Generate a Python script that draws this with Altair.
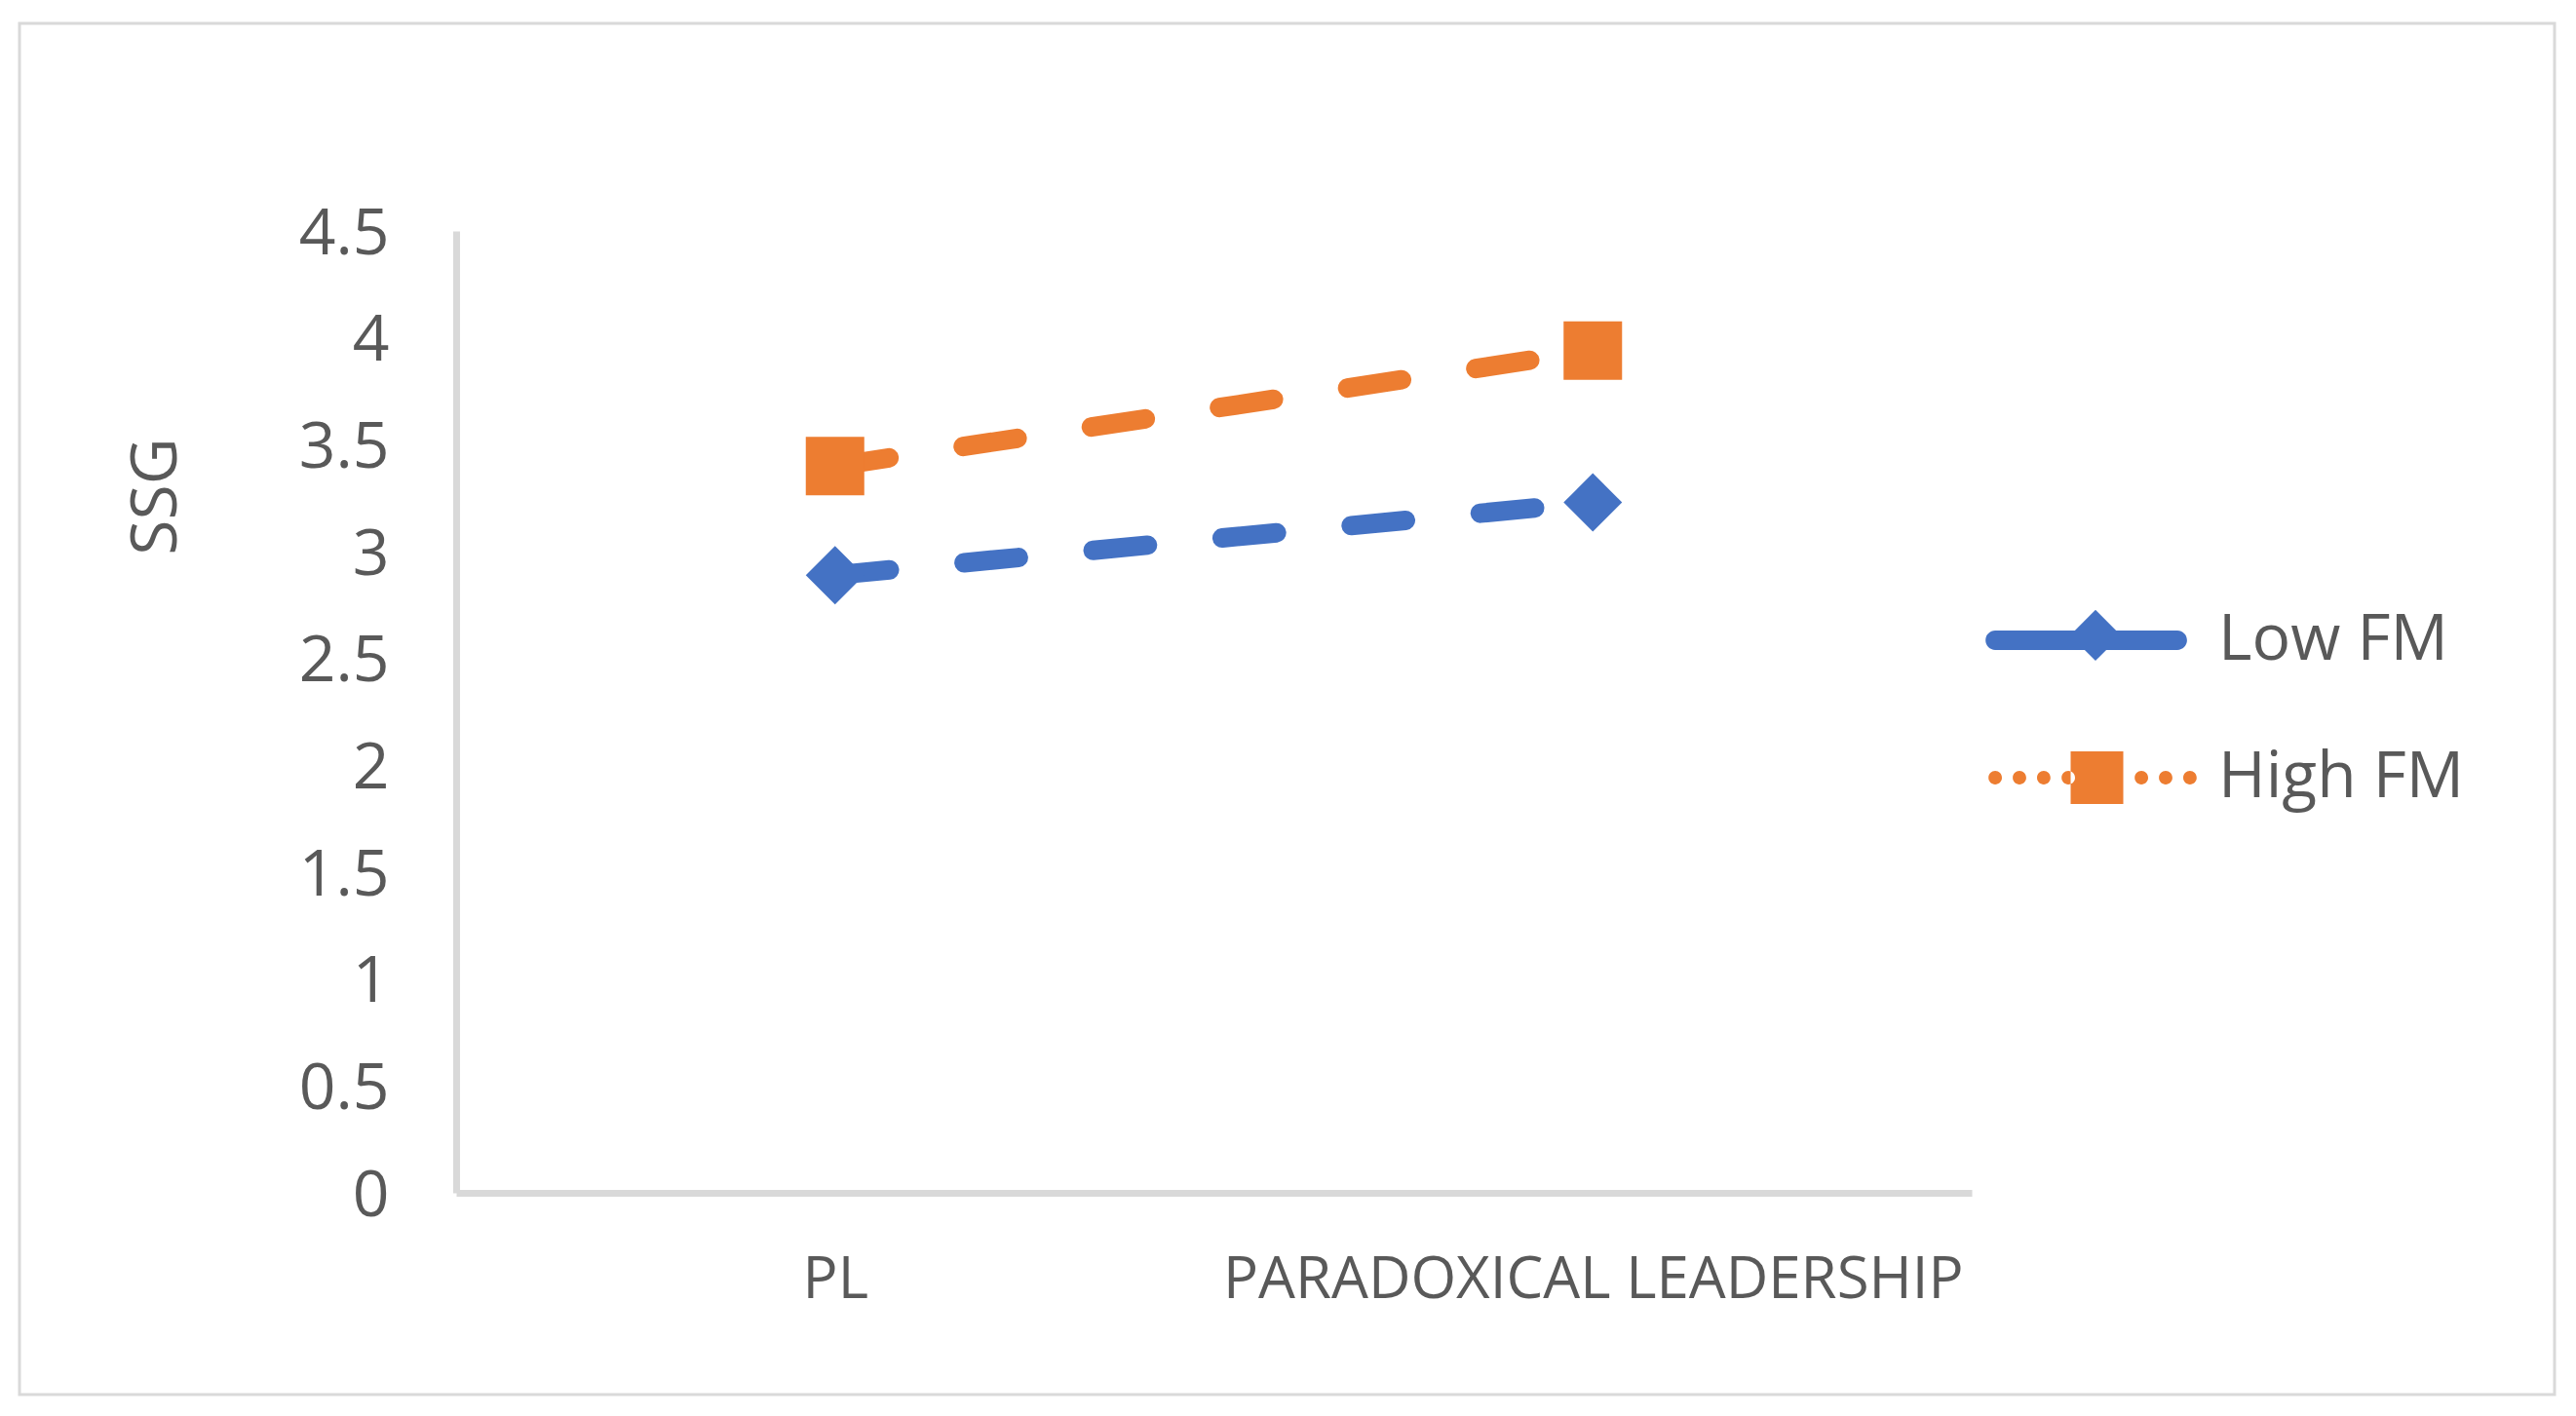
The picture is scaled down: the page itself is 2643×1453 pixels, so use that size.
import altair as alt
import pandas as pd

# ---- data ----
categories = ["PL", "PARADOXICAL LEADERSHIP"]
series = ["Low  FM", "High FM"]
low_fm = [2.89, 3.23]
high_fm = [3.40, 3.94]
y_ticks = [0, 0.5, 1, 1.5, 2, 2.5, 3, 3.5, 4, 4.5]
series_colors = ["#4472C4", "#ED7D31"]
series_shapes = ["diamond", "square"]

rows = []
for name, vals in zip(series, [low_fm, high_fm]):
    for cat, v in zip(categories, vals):
        rows.append({"category": cat, "series": name, "value": v})
df = pd.DataFrame(rows)

# ---- legend glyphs (line + marker), unit = half of sqrt(symbolSize) ----
def circle(cx, cy, r):
    return (f"M{cx - r:.3f},{cy:.3f} A{r},{r} 0 1 0 {cx + r:.3f},{cy:.3f} "
            f"A{r},{r} 0 1 0 {cx - r:.3f},{cy:.3f} Z")

low_glyph = ("M-3.13,-0.33 L3.10,-0.33 A0.33,0.33 0 0 1 3.10,0.33 "
             "L-3.13,0.33 A0.33,0.33 0 0 1 -3.13,-0.33 Z "
             "M0.30,-1.04 L1.17,-0.17 L0.30,0.70 L-0.57,-0.17 Z")
high_glyph = " ".join(circle(cx, 0, 0.23) for cx in [-3.13, -2.30, -1.47, -0.63, 1.87, 2.70, 3.53]) \
    + " M-0.55,-0.90 L1.25,-0.90 L1.25,0.90 L-0.55,0.90 Z"

FONT = "Open Sans"
TXT = "#595959"
AXIS_GRAY = "#D9D9D9"

x_enc = alt.X(
    "category:N", sort=categories,
    scale=alt.Scale(type="point", padding=0.5),
    axis=alt.Axis(title=None, labelAngle=0, labelFont=FONT, labelFontSize=60,
                  labelColor=TXT, labelBaseline="alphabetic", labelPadding=107,
                  labelLimit=3000, ticks=False, tickSize=0, grid=False,
                  domainColor=AXIS_GRAY, domainWidth=7),
)
y_enc = alt.Y(
    "value:Q",
    scale=alt.Scale(domain=[0, 4.5], nice=False, zero=True),
    axis=alt.Axis(values=y_ticks, format="~g", title="SSG", grid=False,
                  ticks=False, tickSize=0, labelFont=FONT, labelFontSize=66,
                  labelColor=TXT, labelAlign="right", labelBaseline="alphabetic",
                  labelOffset=23, labelPadding=69,
                  domainColor=AXIS_GRAY, domainWidth=7,
                  titleFont=FONT, titleFontSize=66, titleColor=TXT,
                  titleFontWeight="normal", titleAngle=270, titleAlign="center",
                  titleBaseline="alphabetic", titleX=-288, titleY=272),
)

legend = alt.Legend(title=None, orient="none", legendX=1640, legendY=387,
                    direction="vertical", labelFont=FONT, labelFontSize=66,
                    labelColor=TXT, labelOffset=102, labelLimit=2000,
                    symbolSize=3600, symbolStrokeWidth=0, rowPadding=75,
                    padding=0)

base = alt.Chart(df)

layers = []
# dashed lines, one per series
for name, col in zip(series, series_colors):
    layers.append(
        base.transform_filter(alt.datum.series == name)
        .mark_line(color=col, strokeWidth=20, strokeDash=[56, 77], strokeCap="round")
        .encode(x=x_enc, y=y_enc)
    )
# markers, one per series
for name, col, shp in zip(series, series_colors, series_shapes):
    layers.append(
        base.transform_filter(alt.datum.series == name)
        .mark_point(shape=shp, color=col, filled=True, size=3600, opacity=1)
        .encode(x=x_enc, y=y_enc)
    )

# legend-only layer: no marks drawn, legend from explicit scale domains
legend_layer = base.transform_filter("datum.value < 0").mark_point(
    filled=True, opacity=1
).encode(
    x=x_enc, y=y_enc,
    color=alt.Color("series:N", scale=alt.Scale(domain=series, range=series_colors), legend=legend),
    shape=alt.Shape("series:N", scale=alt.Scale(domain=series, range=[low_glyph, high_glyph]),
                    legend=legend),
)

frame = alt.Chart(pd.DataFrame({"k": [0]})).mark_rect(
    fill="white", fillOpacity=0, stroke=AXIS_GRAY, strokeWidth=3
).encode(x=alt.value(-448), x2=alt.value(2153), y=alt.value(-213), y2=alt.value(1194))

chart = alt.layer(frame, *layers, legend_layer).properties(
    width=1555, height=987,
    autosize=alt.AutoSizeParams(type="none"),
    padding={"left": 460, "top": 229, "right": 612, "bottom": 209},
    background="white",
).configure_view(stroke="transparent")

chart.save("out.html", embed_options={"renderer": "svg", "actions": False})
